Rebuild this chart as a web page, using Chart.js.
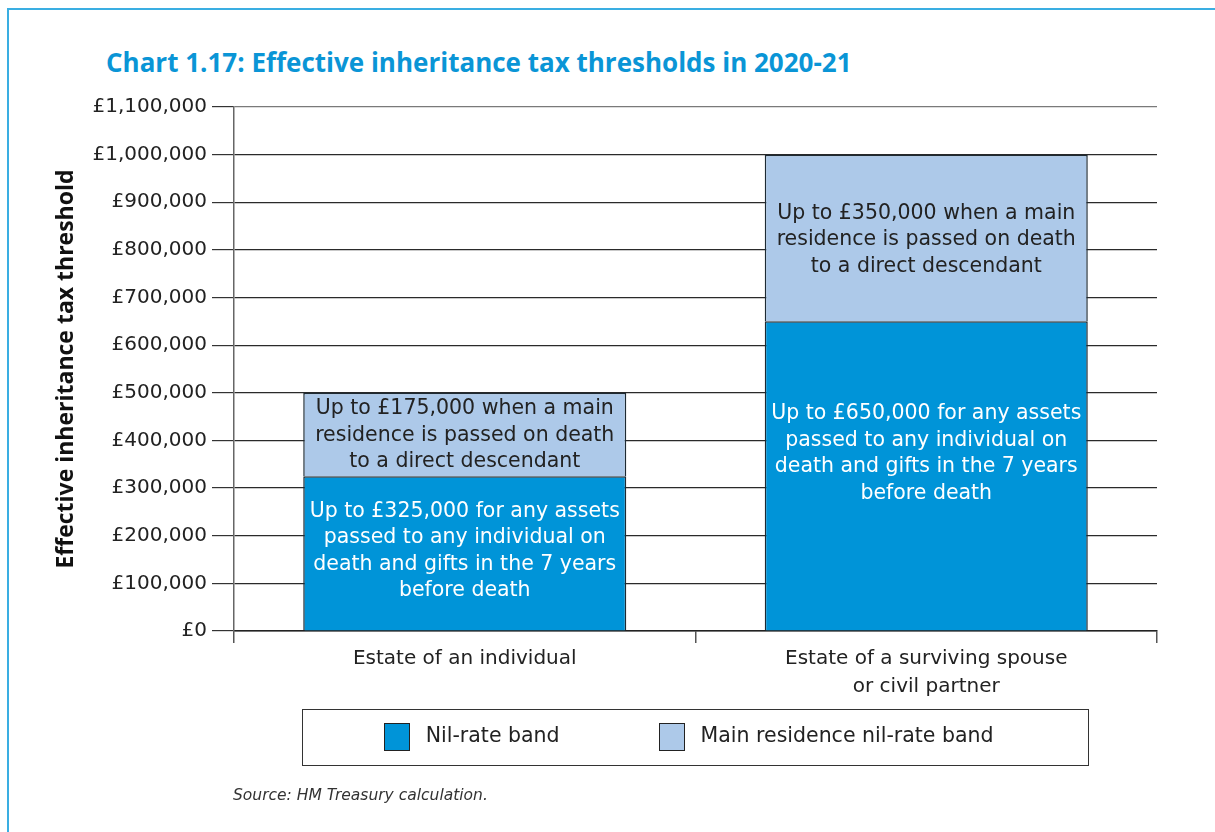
<!DOCTYPE html>
<html>
<head>
<meta charset="utf-8">
<title>Effective inheritance tax thresholds</title>
<script src="https://cdn.jsdelivr.net/npm/chart.js@4/dist/chart.umd.min.js"></script>
<style>
  body { margin: 0; background: #fff; font-family: 'DejaVu Sans', sans-serif; }
  #page { position: relative; width: 1215px; height: 832px; overflow: hidden; }
  #frame { position: absolute; left: 7px; top: 8px; width: 1400px; height: 1000px;
           border-left: 2px solid #3aaee2; border-top: 2px solid #3aaee2; }
  #heading { position: absolute; left: 106px; top: 49px; margin: 0; font-family: 'Open Sans', sans-serif;
             font-size: 26px; line-height: 1; font-weight: bold; color: #0a95d6; white-space: nowrap; }
  #source { position: absolute; left: 233px; top: 786px; font-size: 15.5px;
            font-style: italic; color: #333; }
  canvas { position: absolute; left: 0; top: 0; }
</style>
</head>
<body>
<div id="page">
  <div id="frame"></div>
  <h2 id="heading">Chart 1.17: Effective inheritance tax thresholds in 2020-21</h2>
  <canvas id="thresholds" width="1215" height="832"></canvas>
  <div id="source">Source: HM Treasury calculation.</div>
</div>
<script>
// categories and values (£)
var estates = ["Estate of an individual", ["Estate of a surviving spouse", "or civil partner"]];
var nilRateBand = [325000, 650000];
var mainResidenceBand = [175000, 350000];
var yTicks = [0, 100000, 200000, 300000, 400000, 500000, 600000, 700000, 800000, 900000, 1000000, 1100000];

// text written inside each bar segment
var nilRateText = [
    ["Up to £325,000 for any assets", "passed to any individual on", "death and gifts in the 7 years", "before death"],
    ["Up to £650,000 for any assets", "passed to any individual on", "death and gifts in the 7 years", "before death"]
];
var residenceText = [
    ["Up to £175,000 when a main", "residence is passed on death", "to a direct descendant"],
    ["Up to £350,000 when a main", "residence is passed on death", "to a direct descendant"]
];

var darkBlue = "#0094d8";
var lightBlue = "#adc9e9";
var fontFamily = "'DejaVu Sans', sans-serif";

Chart.defaults.font.family = fontFamily;
Chart.defaults.color = "#222";

// writes the wrapped notes in the middle of each stacked segment
var segmentText = {
    id: 'segmentText',
    afterDatasetsDraw: function (chart) {
        var ctx = chart.ctx;
        ctx.save();
        ctx.font = "20.5px " + fontFamily;
        ctx.textAlign = 'center';
        ctx.textBaseline = 'middle';
        chart.data.datasets.forEach(function (ds, di) {
            var meta = chart.getDatasetMeta(di);
            meta.data.forEach(function (bar, i) {
                var lines = ds.notes[i];
                var mid = (bar.y + bar.base) / 2 + ds.noteShift[i];
                var lh = 26.5;
                var start = mid - (lines.length - 1) * lh / 2;
                ctx.fillStyle = ds.noteColor;
                lines.forEach(function (line, li) {
                    ctx.fillText(line, bar.x, start + li * lh);
                });
            });
        });
        ctx.restore();
    }
};

// boxed legend under the axis, as wide as the two bars
var boxedLegend = {
    id: 'boxedLegend',
    afterDraw: function (chart) {
        var ctx = chart.ctx;
        var first = chart.getDatasetMeta(0).data[0];
        var last = chart.getDatasetMeta(0).data[1];
        var left = first.x - first.width / 2 - 1.5;
        var right = last.x + last.width / 2 - 0.5;
        var top = chart.chartArea.bottom + 78;
        var h = 56;
        ctx.save();
        ctx.strokeStyle = "#333";
        ctx.lineWidth = 1;
        ctx.strokeRect(Math.round(left) + 0.5, top + 0.5, Math.round(right - left), h);

        ctx.font = "20.5px " + fontFamily;
        var sw = 26, sh = 28, gap = 16, between = 99;
        var x = left + 82;
        var cy = top + h / 2;
        ctx.textBaseline = 'middle';
        ctx.textAlign = 'left';
        chart.data.datasets.forEach(function (ds) {
            ctx.fillStyle = ds.backgroundColor;
            ctx.fillRect(Math.round(x), Math.round(cy - sh / 2), sw, sh);
            ctx.strokeStyle = "#222";
            ctx.strokeRect(Math.round(x) + 0.5, Math.round(cy - sh / 2) + 0.5, sw - 1, sh - 1);
            ctx.fillStyle = "#222";
            ctx.fillText(ds.label, x + sw + gap, cy);
            x += sw + gap + ctx.measureText(ds.label).width + between;
        });
        ctx.restore();
    }
};

var ctx = document.getElementById("thresholds").getContext('2d');
var chart = new Chart(ctx, {
    type: 'bar',
    data: {
        labels: estates,
        datasets: [{
            label: "Nil-rate band",
            data: nilRateBand,
            backgroundColor: darkBlue,
            borderColor: "#1d2a33",
            borderWidth: 1.5,
            notes: nilRateText,
            noteColor: "#ffffff",
            noteShift: [-2, -22]
        }, {
            label: "Main residence nil-rate band",
            data: mainResidenceBand,
            backgroundColor: lightBlue,
            borderColor: "#1d2a33",
            borderWidth: 1.5,
            notes: residenceText,
            noteColor: "#222222",
            noteShift: [1, 2]
        }]
    },
    options: {
        responsive: false,
        devicePixelRatio: 1,
        animation: false,
        layout: { padding: { left: 53, top: 107, right: 58, bottom: 131 } },
        datasets: { bar: { barPercentage: 0.7, categoryPercentage: 1 } },
        plugins: {
            legend: { display: false },
            title: { display: false },
            tooltip: { enabled: false }
        },
        scales: {
            x: {
                stacked: true,
                afterFit: function (scale) { scale.height = 70; },
                grid: {
                    offset: true,
                    drawOnChartArea: true,
                    color: function (c) { return c.index === estates.length ? "#222" : "rgba(0,0,0,0)"; },
                    tickColor: "#555",
                    tickLength: 12,
                    lineWidth: 1.5
                },
                border: { display: true, color: "#222", width: 1.5 },
                ticks: {
                    padding: 2,
                    color: "#222",
                    font: { size: 20, lineHeight: 1.4 },
                    maxRotation: 0,
                    autoSkip: false
                }
            },
            y: {
                stacked: true,
                min: 0,
                max: 1100000,
                afterFit: function (scale) { scale.width = 234 - 53; },
                afterBuildTicks: function (scale) {
                    scale.ticks = yTicks.map(function (v) { return { value: v }; });
                },
                grid: {
                    color: function (c) { return c.tick && c.tick.value === 1100000 ? "#7a7a7a" : "#2a2a2a"; },
                    tickColor: "#333",
                    tickLength: 22,
                    lineWidth: 1.2
                },
                border: { display: true, color: "#666", width: 1.5 },
                ticks: {
                    padding: 5,
                    color: "#222",
                    font: { size: 20 },
                    callback: function (v) { return "£" + Number(v).toLocaleString('en-GB'); }
                },
                title: {
                    display: true,
                    text: "Effective inheritance tax threshold",
                    color: "#111",
                    font: { family: "'Open Sans', sans-serif", size: 23, weight: 'bold' },
                    padding: { top: 0, bottom: 0 }
                }
            }
        }
    },
    plugins: [segmentText, boxedLegend]
});
</script>
</body>
</html>
